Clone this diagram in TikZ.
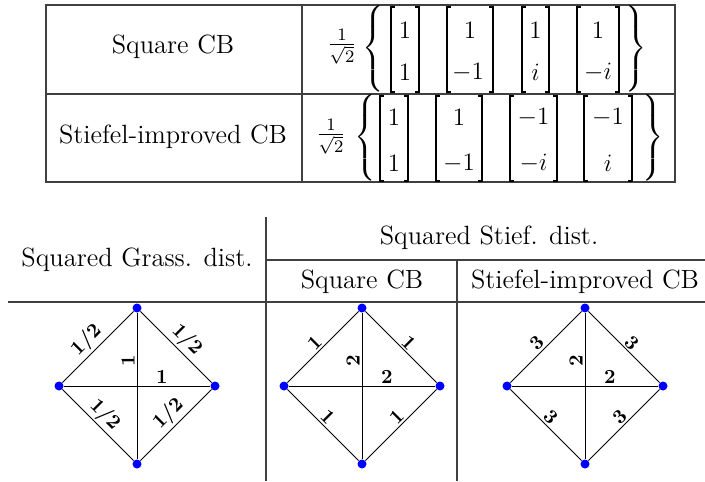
\RequirePackage{fix-cm}
\documentclass[tikz,border=0pt]{standalone}
\usepackage{amsmath}

% one weighted complete graph on four vertices, drawn as a diamond
% #1 name prefix, #2 centre x, #3 side weight, #4 vertical weight, #5 horizontal weight
\newcommand\wdiamond[5]{%
  \node[vtx] (#1t) at (#2,308) {};
  \node[vtx] (#1l) at (#2-78,386) {};
  \node[vtx] (#1r) at (#2+78,386) {};
  \node[vtx] (#1b) at (#2,464) {};
  \draw[edge] (#1l) -- (#1t) node[wt,sloped,above,pos=0.47] {#3};
  \draw[edge] (#1t) -- (#1r) node[wt,sloped,above,pos=0.53] {#3};
  \draw[edge] (#1l) -- (#1b) node[wt,sloped,above,pos=0.48] {#3};
  \draw[edge] (#1b) -- (#1r) node[wt,sloped,above,pos=0.53] {#3};
  \draw[edge] (#1b) -- (#1t) node[wt,rotate=90,anchor=south,pos=0.67] {#4};
  \draw[edge] (#1l) -- (#1r) node[wt,above,pos=0.67] {#5};
}

% a column vector in square brackets: #1 left x, #2 right x, #3 top y, #4 bottom y
\newcommand\bvec[4]{%
  \draw[bracket] (#1+4,#3) -- (#1,#3) -- (#1,#4) -- (#1+4,#4);
  \draw[bracket] (#2-4,#3) -- (#2,#3) -- (#2,#4) -- (#2-4,#4);
}

% a tall curly brace with no box height of its own
\newcommand\lbr{\smash{$\delimiterfactor=1000\delimitershortfall=0pt
  \left\{\vcenter{\hrule height 43pt width 0pt}\right.$}}
\newcommand\rbr{\smash{$\delimiterfactor=1000\delimitershortfall=0pt
  \left.\vcenter{\hrule height 43pt width 0pt}\right\}$}}

\begin{document}
\begin{tikzpicture}[x=0.5pt,y=-0.5pt,
  rule/.style={draw=black!75,line width=0.6pt},
  bracket/.style={line width=0.75pt},
  entry/.style={font=\fontsize{12.5}{15}\selectfont,inner sep=0pt},
  head/.style={font=\fontsize{13.2}{16}\selectfont,inner sep=0pt},
  frac/.style={font=\fontsize{12.5}{15}\selectfont,inner sep=0pt},
  brace/.style={font=\fontsize{13}{15}\selectfont,inner sep=0pt},
  vtx/.style={circle,fill=blue,inner sep=0pt,minimum size=4.5pt},
  edge/.style={line width=0.45pt},
  wt/.style={font=\fontsize{10}{12}\selectfont\bfseries,inner sep=1pt}]

\useasboundingbox (0,0) rectangle (705,481);

% ---- codebook table ----
\draw[rule] (46,5) rectangle (675,182);
\draw[rule] (46,94) -- (675,94);
\draw[rule] (302,5) -- (302,182);

\node[head] (sqcb) at (173,47) {Square CB};
\node[head] (sicb) at (173,137) {Stiefel-improved CB};

% first row
\node[frac] (f1) at (342,47) {$\frac{1}{\sqrt{2}}$};
\node[brace] (lb1) at (374,55) {\lbr};
\node[brace] (rb1) at (635,55) {\rbr};
\bvec{391}{419}{7}{92}
\bvec{447}{493}{7}{92}
\bvec{522}{549}{7}{92}
\bvec{577}{619}{7}{92}
\node[entry] (a11) at (405,30) {$1$};
\node[entry] (a12) at (405,72) {$1$};
\node[entry] (a21) at (470,30) {$1$};
\node[entry] (a22) at (468,72) {$-1$};
\node[entry] (a31) at (535.5,30) {$1$};
\node[entry] (a32) at (535.5,72) {$i$};
\node[entry] (a41) at (598,30) {$1$};
\node[entry] (a42) at (598,72) {$-i$};

% second row
\node[frac] (f2) at (331,137) {$\frac{1}{\sqrt{2}}$};
\node[brace] (lb2) at (366,144) {\lbr};
\node[brace] (rb2) at (652,144) {\rbr};
\bvec{380}{408}{96}{181}
\bvec{436}{482}{96}{181}
\bvec{510}{557}{96}{181}
\bvec{584}{632}{96}{181}
\node[entry] (b11) at (394,117) {$1$};
\node[entry] (b12) at (394,163) {$1$};
\node[entry] (b21) at (459,117) {$1$};
\node[entry] (b22) at (459,163) {$-1$};
\node[entry] (b31) at (533.5,117) {$-1$};
\node[entry] (b32) at (533.5,163) {$-i$};
\node[entry] (b41) at (608,117) {$-1$};
\node[entry] (b42) at (608,163) {$i$};

% ---- distance table ----
\draw[rule] (266,217) -- (266,481);
\draw[rule] (8,302) -- (705,302);
\draw[rule] (266,260) -- (705,260);
\draw[rule] (457,260) -- (457,481);

\node[head] (hg) at (137,260) {Squared Grass. dist.};
\node[head] (hs) at (489,238) {Squared Stief. dist.};
\node[head] (hsq) at (362,282) {Square CB};
\node[head] (hsi) at (585,282) {Stiefel-improved CB};

\wdiamond{g}{137}{1/2}{1}{1}
\wdiamond{q}{362}{1}{2}{2}
\wdiamond{s}{585}{3}{2}{2}

\end{tikzpicture}
\end{document}
